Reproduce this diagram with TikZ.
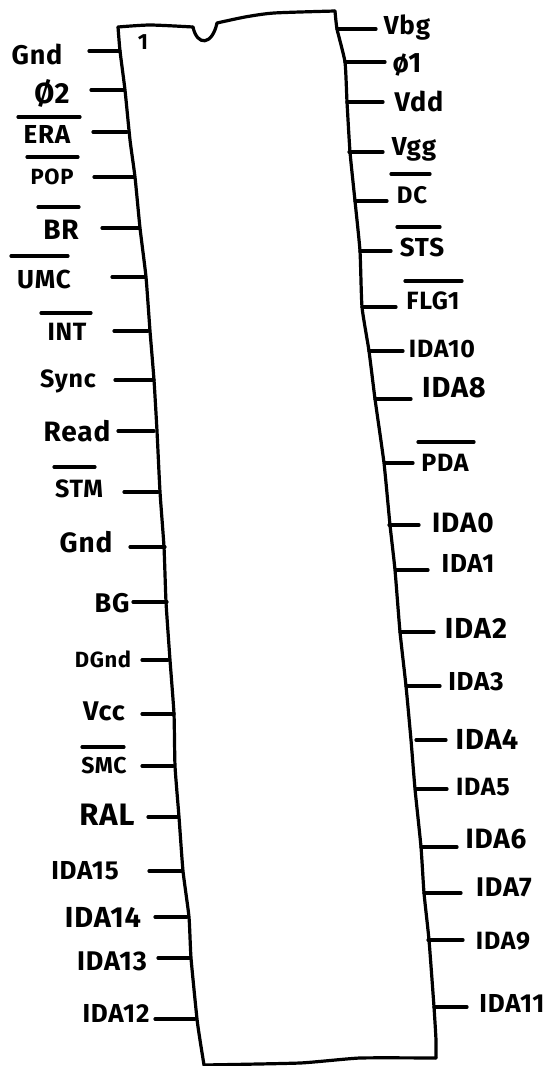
\documentclass[tikz,border=0pt]{standalone}
\usepackage{fontspec}
\setmainfont{Fira Sans}[LetterSpace=3]
\tikzset{
  inkline/.style={line width=3.2pt,line cap=round,line join=round,black},
  lbl/.style={inner sep=0pt,text=black,font=\fontsize{#1}{#1}\selectfont\bfseries}
}
\begin{document}
\begin{tikzpicture}[x=1pt,y=-1pt]
\useasboundingbox (0,0) rectangle (548,1066);
\fill[white] (0,0) rectangle (548,1066);
% package body
\coordinate (tl) at (118,27);
\coordinate (tr) at (335,11);
\coordinate (bl) at (204,1065);
\coordinate (br) at (436,1058);
\coordinate (na) at (193,27);
\coordinate (nb) at (217,23);
\draw[inkline] plot[smooth,tension=0.4] coordinates {(tl) (150,25) (na)};
\draw[inkline] plot[smooth,tension=0.4] coordinates {(nb) (245,17) (274,13) (tr)};
\draw[inkline] plot[smooth,tension=0.3] coordinates {(tl) (120,51) (125,90) (130,140) (135,177) (140,228) (146,277) (150,331) (154,380) (157,431) (160,492) (164,547) (166,602) (170,660) (174,714) (175,766) (179,817) (183,871) (189,917) (191,958) (197,1019) (200,1040) (bl)};
\draw[inkline] plot[smooth,tension=0.3] coordinates {(tr) (337,29) (345,62) (347,102) (350,152) (355,201) (360,251) (362,307) (369,351) (375,399) (384,463) (390,525) (395,570) (400,632) (406,686) (411,740) (415,789) (421,847) (424,893) (429,940) (434,1007) (436,1040) (br)};
\draw[inkline] plot[smooth,tension=0.3] coordinates {(bl) (300,1063) (360,1058) (br)};
\draw[inkline] (na) .. controls (197,46) and (212,46) .. (nb);
\node[lbl=22] (one) at (143,42) {1};
% left pins
\foreach \nm/\txt/\sz/\lx/\ly/\xa/\xb/\py in {
 a/Gnd/27/37/54/89/120/51,
 b/Ø2/29/52/93/91/124/90,
 c/ERA/26/47/134/93/127/132,
 d/POP/22/52/177/94/134/177,
 e/BR/28/61/230/102/139/228,
 f/UMC/26/44/279/112/145/277,
 g/INT/25/67/332/114/148/331,
 h/Sync/25/68/381/115/154/380,
 i/Read/28/77/431/118/154/431,
 j/STM/25/79/489/124/158/492,
 k/Gnd/28/86/542/130/165/547,
 l/BG/27/112/603/133/167/602,
 m/DGnd/22/103/659/142/168/660,
 n/Vcc/27/104/711/142/174/714,
 o/SMC/23/104/766/142/173/766,
 p/RAL/31/107/815/148/178/817,
 q/IDA15/26/85/871/149/182/871,
 r/IDA14/29/103/917/155/187/917,
 s/IDA13/27/112/961/158/190/958,
 t/IDA12/26/116/1013/155/195/1019}{
  \node[lbl=\sz] (L\nm) at (\lx,\ly) {\txt};
  \coordinate (La\nm) at (\xa,\py);
  \coordinate (Lb\nm) at (\xb,\py);
  \draw[inkline] (La\nm) -- (Lb\nm);
}
% right pins
\foreach \nm/\txt/\sz/\lx/\ly/\xa/\xb/\py in {
 a/Vbg/26/407/28/337/376/29,
 b/ø1/28/407/65/345/385/62,
 c/Vdd/27/419/101/347/383/102,
 d/Vgg/26/414/149/349/383/152,
 e/DC/24/412/195/355/387/201,
 f/STS/26/422/247/360/391/251,
 g/FLG1/25/433/301/362/396/307,
 h/IDA10/25/442/349/369/403/351,
 i/IDA8/29/454/388/375/411/399,
 j/PDA/25/445/463/385/413/463,
 k/IDA0/28/463/523/389/419/525,
 l/IDA1/26/468/563/396/428/570,
 m/IDA2/29/476/628/400/434/632,
 n/IDA3/26/476/682/406/440/686,
 o/IDA4/29/487/739/416/446/740,
 p/IDA5/25/483/787/416/447/789,
 q/IDA6/28/496/839/421/457/847,
 r/IDA7/27/504/887/424/461/893,
 s/IDA9/25/503/941/428/463/940,
 t/IDA11/26/512/1003/434/467/1007}{
  \node[lbl=\sz] (R\nm) at (\lx,\ly) {\txt};
  \coordinate (Ra\nm) at (\xa,\py);
  \coordinate (Rb\nm) at (\xb,\py);
  \draw[inkline] (Ra\nm) -- (Rb\nm);
}
% bars over active-low labels
\foreach \nm/\xa/\xb/\yy in {
 c/18/80/117, d/27/78/157, e/38/79/207, f/11/68/256, g/41/91/313,
 j/54/95/467, o/82/124/747,
 R/391/430/174, S/397/440/227, T/405/462/281, U/418/474/442}{
  \coordinate (ba\nm) at (\xa,\yy);
  \coordinate (bb\nm) at (\xb,\yy);
  \draw[inkline] (ba\nm) -- (bb\nm);
}
\end{tikzpicture}
\end{document}
